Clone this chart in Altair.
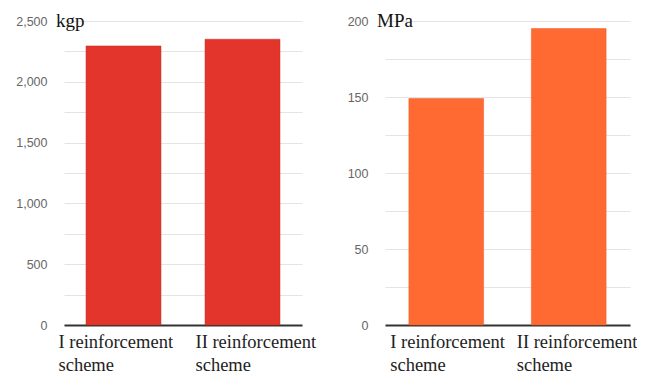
import altair as alt
import pandas as pd

categories = ["I reinforcement|scheme", "II reinforcement|scheme"]
force_kgp = [2295, 2350]
stress_mpa = [149, 195]

df1 = pd.DataFrame({"cat": categories, "v": force_kgp})
df2 = pd.DataFrame({"cat": categories, "v": stress_mpa})

def panel(df, color, stroke, maxv, step, label_step, fmt, unit, w, pad, offs):
    vals = list(range(0, maxv + 1, step))
    xenc = alt.X("cat:N", sort=categories, title=None,
                 scale=alt.Scale(paddingInner=pad, paddingOuter=pad / 2),
                 axis=alt.Axis(labelExpr="split(datum.label, '|')", labelAngle=0,
                               labelAlign="left",
                               labelOffset={"condition": {"test": f"datum.value == '{categories[0]}'",
                                                          "value": offs[0]},
                                            "value": offs[1]},
                               labelPadding=7,
                               labelFont="Liberation Serif", labelFontSize=18.5,
                               labelColor="#222", labelLineHeight=23,
                               ticks=False, domainColor="#333", domainWidth=2,
                               grid=False))
    yenc = alt.Y("v:Q", title=None, scale=alt.Scale(domain=[0, maxv], nice=False),
                 axis=alt.Axis(values=vals,
                               labelExpr=f"datum.value % {label_step} == 0 ? format(datum.value, '{fmt}') : ''",
                               ticks=False, domain=False, gridColor="#e4e4e4",
                               labelFont="Liberation Sans", labelFontSize=12.5,
                               labelColor="#666", labelPadding=17))
    bars = alt.Chart(df).mark_bar(color=color, stroke=stroke,
                                  strokeWidth=0.5).encode(x=xenc, y=yenc)
    unit_df = pd.DataFrame({"t": [unit]})
    txt = alt.Chart(unit_df).mark_text(align="left", baseline="middle",
                                        font="Liberation Serif", fontSize=19,
                                        color="#111").encode(
        text="t:N", x=alt.value(-8), y=alt.value(0))
    return alt.layer(bars, txt).properties(width=w, height=304)

left = panel(df1, "#e3352b", "#c0301f", 2500, 250, 500, ",", "kgp", 238, 0.37, (-65, -47))
right = panel(df2, "#ff6a33", "#e85a25", 200, 25, 50, "d", "MPa", 245, 0.39, (-56, -52))

chart = alt.hconcat(left, right, spacing=31).configure_view(stroke=None).properties(
    padding={"left": 7, "top": 4, "right": 0, "bottom": 0})

chart.save("out.html", embed_options={"renderer": "svg", "actions": False})
